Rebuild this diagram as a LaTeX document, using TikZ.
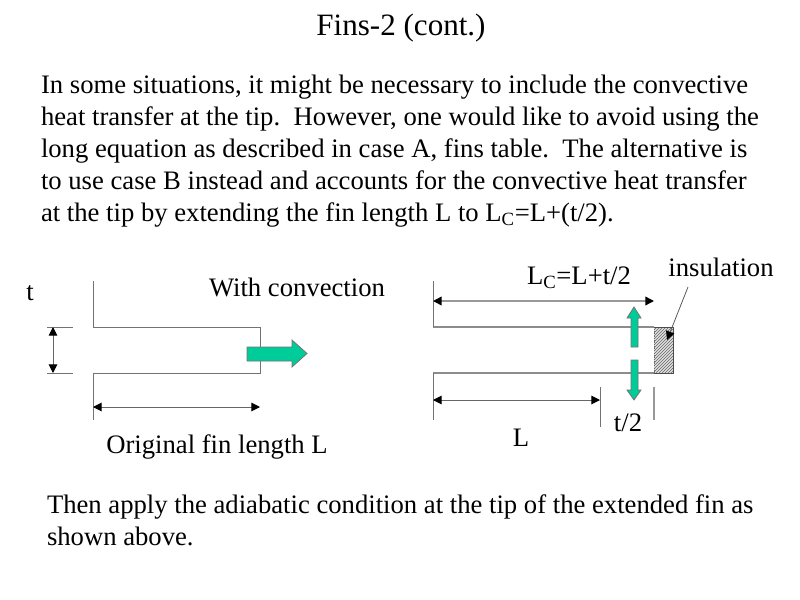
\documentclass[tikz,border=0pt]{standalone}
\usepackage{fontspec}
\setmainfont{Liberation Serif}
\usetikzlibrary{arrows.meta}
\definecolor{arrowgreen}{RGB}{0,204,153}
\tikzset{
  body/.style={anchor=base west,inner sep=0pt,outer sep=0pt,font=\fontsize{20pt}{24pt}\selectfont,text=black},
  lbl/.style={anchor=base,inner sep=0pt,outer sep=0pt,font=\fontsize{20pt}{24pt}\selectfont,text=black},
  wall/.style={draw=black!55,line width=0.75pt},
  dim/.style={draw=black!60,line width=0.75pt,{Triangle[length=6.5pt,width=6.5pt,black]}-{Triangle[length=6.5pt,width=6.5pt,black]}},
  dimthick/.style={dim,draw=black!40,line width=1.1pt},
  greenarrow/.style={draw=black!55,fill=arrowgreen,line width=0.6pt,line join=miter},
}
\begin{document}
\begin{tikzpicture}[x=0.75pt,y=-0.75pt]
\useasboundingbox (0,0) rectangle (800,600);
% title and text
\node[lbl,font=\fontsize{23.3pt}{28pt}\selectfont] (title) at (401,35) {Fins-2 (cont.)};
\node[body] (l1) at (41,93) {In some situations, it might be necessary to include the convective};
\node[body] (l2) at (41,125) {heat transfer at the tip.\ \ However, one would like to avoid using the};
\node[body] (l3) at (41,157) {long equation as described in case A, fins table.\ \ The alternative is};
\node[body] (l4) at (41,189) {to use case B instead and accounts for the convective heat transfer};
\node[body] (l5) at (41,221) {at the tip by extending the fin length L to L\textsubscript{C}=L+(t/2).};
\node[body] (l6) at (47,513) {Then apply the adiabatic condition at the tip of the extended fin as};
\node[body] (l7) at (47,545) {shown above.};
% labels
\node[lbl] (t) at (30,300) {t};
\node[lbl] (conv) at (297,296) {With convection};
\node[lbl] (orig) at (217,453) {Original fin length L};
\node[lbl] (lc) at (579,284) {L\textsubscript{C}=L+t/2};
\node[lbl] (ins) at (721,276) {insulation};
\node[lbl] (tt) at (628,431) {t/2};
\node[lbl] (L) at (521,446) {L};
% left fin
\coordinate (a1) at (93,281); \coordinate (a2) at (93,327); \coordinate (a3) at (260,327);
\coordinate (a4) at (260,373); \coordinate (a5) at (93,373); \coordinate (a6) at (93,420);
\draw[wall] (a1) -- (a2) -- (a3) -- (a4) -- (a5) -- (a6);
\coordinate (t1a) at (47,327); \coordinate (t1b) at (73,327);
\coordinate (t2a) at (47,373); \coordinate (t2b) at (73,373);
\draw[wall] (t1a) -- (t1b);
\draw[wall] (t2a) -- (t2b);
\coordinate (d1) at (53,327); \coordinate (d2) at (53,373);
\draw[dim] (d1) -- (d2);
\coordinate (d3) at (93,407); \coordinate (d4) at (260,407);
\draw[dim] (d3) -- (d4);
\draw[greenarrow] (247,347) -- (292,347) -- (292,340) -- (307,353.5) -- (292,367) -- (292,361) -- (247,361) -- cycle;
% right fin
\coordinate (b1) at (433,281); \coordinate (b2) at (433,327); \coordinate (b3) at (654,327);
\coordinate (b4) at (654,373); \coordinate (b5) at (433,373); \coordinate (b6) at (433,420);
\draw[wall,line width=1.1pt,draw=black!45] (b2) -- (b3);
\draw[wall,line width=1.1pt,draw=black!45] (b4) -- (b5);
\draw[wall] (b1) -- (b2);
\draw[wall] (b5) -- (b6);
\begin{scope}
\clip (654,327) rectangle (673,373);
\fill[black!12] (654,327) rectangle (673,373);
\foreach \k in {-60,-57,...,24} {
  \draw[black!60,line width=0.5pt] (654+\k,375) -- (654+\k+52,323);
}
\end{scope}
\draw[black!60,line width=0.6pt,densely dotted] (654,327) -- (654,373);
\draw[black!70,line width=0.75pt] (654,327) -- (673,327) -- (673,373) -- (654,373);
\coordinate (c1) at (433,301); \coordinate (c2) at (654,301);
\draw[dimthick] (c1) -- (c2);
\coordinate (c3) at (433,400); \coordinate (c4) at (600,400);
\draw[dim] (c3) -- (c4);
\coordinate (e1) at (600,387); \coordinate (e2) at (600,427);
\draw[wall] (e1) -- (e2);
\coordinate (f1) at (654,387); \coordinate (f2) at (654,420);
\draw[wall,draw=black!40,line width=1pt] (f1) -- (f2);
\coordinate (g1) at (688,287); \coordinate (g2) at (667,340);
\draw[draw=black!65,line width=0.6pt,-{Triangle[length=6.5pt,width=6.5pt,black]}] (g1) -- (g2);
\draw[greenarrow] (634,307) -- (641,318) -- (638,318) -- (638,347) -- (631,347) -- (631,318) -- (627,318) -- cycle;
\draw[greenarrow] (634,400) -- (641,390) -- (638,390) -- (638,360) -- (631,360) -- (631,390) -- (627,390) -- cycle;
\end{tikzpicture}
\end{document}
